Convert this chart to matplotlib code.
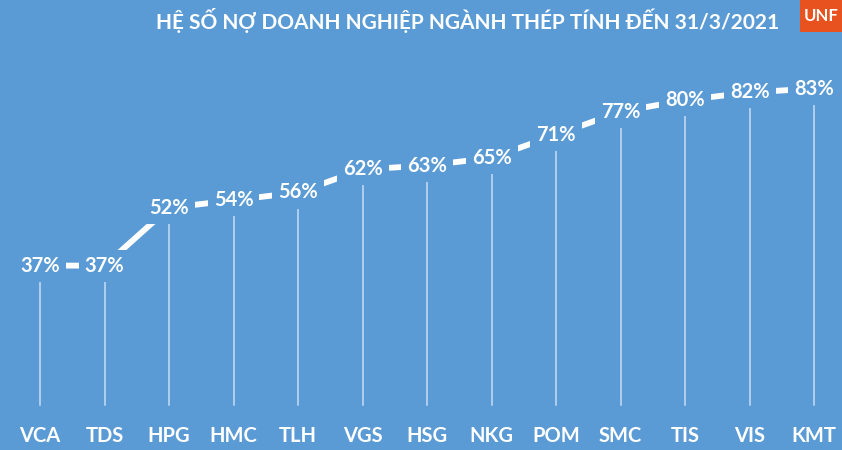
import matplotlib.pyplot as plt
from matplotlib.patches import Rectangle

codes = ["VCA", "TDS", "HPG", "HMC", "TLH", "VGS", "HSG", "NKG", "POM", "SMC", "TIS", "VIS", "KMT"]
debt_ratio = [37, 37, 52, 54, 56, 62, 63, 65, 71, 77, 80, 82, 83]
title = "HỆ SỐ NỢ DOANH NGHIỆP NGÀNH THÉP TÍNH ĐẾN 31/3/2021"

bg = "#5b9bd5"
plt.rcParams['font.family'] = ['Lato', 'DejaVu Sans']

fig = plt.figure(figsize=(8.42, 4.5), dpi=100, facecolor=bg)
ax = fig.add_axes([0, 0, 1, 1])
ax.set_facecolor(bg)
ax.set_xlim(-0.62, 12.43)
ax.set_ylim(-10.9, 106)
ax.axis('off')

x = list(range(len(codes)))

# drop lines from each point to the base
for i, v in zip(x, debt_ratio):
    ax.plot([i, i], [0.8, v], color="#dce9f7", lw=1.1, alpha=0.85, zorder=1)

# connecting line, the label boxes cut it into dashes
ax.plot(x, debt_ratio, color="white", lw=4.2, solid_capstyle='round', zorder=2)

for i, v in zip(x, debt_ratio):
    ax.text(i, v, f"{v}%", ha='center', va='center', color="white",
            fontsize=14.5, fontweight='bold', zorder=3,
            bbox=dict(boxstyle='square,pad=0.3', fc=bg, ec='none'))
    ax.text(i, -7.3, codes[i], ha='center', va='center', color="white",
            fontsize=14.5, fontweight='bold')

fig.text(0.555, 0.955, title, ha='center', va='center', color="white",
         fontsize=15, fontweight='bold')

# logo
fig.patches.append(Rectangle((800 / 842, 1 - 32 / 450), 42 / 842, 32 / 450,
                             transform=fig.transFigure, fc="#e8521f", ec='none'))
fig.text(821 / 842, 1 - 16 / 450, "UNF", ha='center', va='center',
         color="white", fontsize=12, fontweight='bold')

fig.savefig("out.png", dpi=100, facecolor=bg)
